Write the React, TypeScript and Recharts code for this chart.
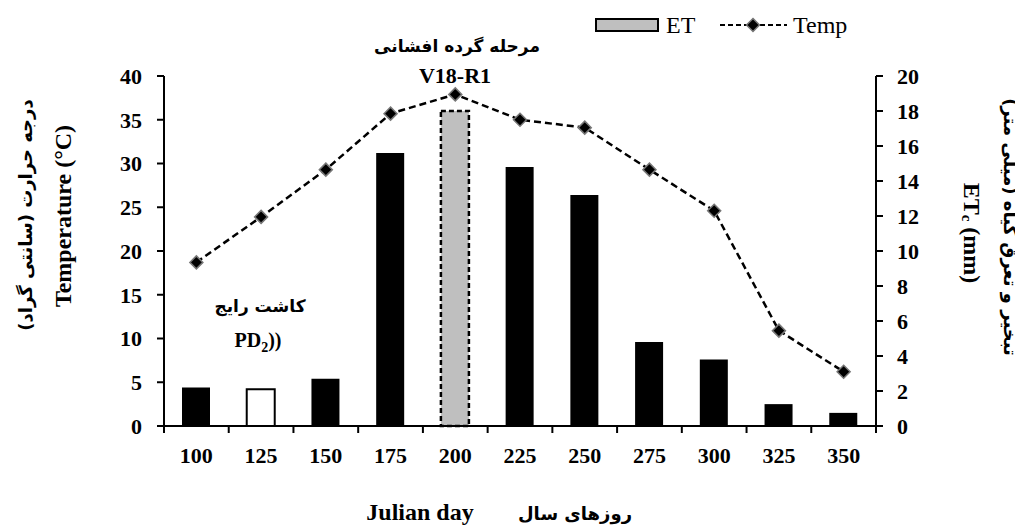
import { Bar, Cell, ComposedChart, Line, XAxis, YAxis } from "recharts"

// julian day categories
const days = [100, 125, 150, 175, 200, 225, 250, 275, 300, 325, 350]
// temperature (°C), left axis
const temp = [18.7, 23.9, 29.3, 35.7, 37.9, 35.0, 34.1, 29.3, 24.6, 10.9, 6.2]
// ETc (mm), right axis
const et = [2.2, 2.1, 2.7, 15.6, 18.0, 14.8, 13.2, 4.8, 3.8, 1.25, 0.75]

const tempTicks = [0, 5, 10, 15, 20, 25, 30, 35, 40]
const etTicks = [0, 2, 4, 6, 8, 10, 12, 14, 16, 18, 20]

const data = days.map((d, i) => ({ day: d, temp: temp[i], et: et[i] }))

const W = 1015
const H = 521
const serif = "'Liberation Serif', 'Times New Roman', 'DejaVu Serif', serif"
const persian = "'DejaVu Sans', sans-serif"

// 125 = planting date (white), 200 = pollination stage (grey dashed)
const barLook = (day: number) => {
  if (day === 125) return { fill: "#fff", stroke: "#000", strokeWidth: 2 }
  if (day === 200) return { fill: "#bfbfbf", stroke: "#000", strokeWidth: 2.5, strokeDasharray: "5 3" }
  return { fill: "#000", stroke: "none", strokeWidth: 0 }
}

const Diamond = (props: any) => {
  const { cx, cy } = props
  if (cx == null || cy == null) return null
  const r = 6.5
  return (
    <polygon
      points={`${cx},${cy - r} ${cx + r},${cy} ${cx},${cy + r} ${cx - r},${cy}`}
      fill="#000"
      stroke="#777"
      strokeWidth={1.5}
    />
  )
}

const XTick = (props: any) => {
  const { x, y, payload, index } = props
  const half = payload?.offset || 32.35
  return (
    <g>
      <line x1={x - half} x2={x - half} y1={y - 7} y2={y} stroke="#000" strokeWidth={2} />
      {index === days.length - 1 && (
        <line x1={x + half} x2={x + half} y1={y - 7} y2={y} stroke="#000" strokeWidth={2} />
      )}
      <text x={x} y={y + 30} textAnchor="middle" fontFamily={serif} fontWeight="bold" fontSize={22} fill="#000">
        {payload.value}
      </text>
    </g>
  )
}

const tickStyle = { fill: "#000", fontSize: 22, fontWeight: "bold", fontFamily: serif }

export default function App() {
  return (
    <div style={{ position: "relative", width: W, height: H, background: "#fff" }}>
      <ComposedChart width={W} height={H} data={data} margin={{ top: 68, right: 47, left: 56, bottom: 63 }}>
        <XAxis
          dataKey="day"
          xAxisId="x"
          tick={<XTick />}
          tickLine={false}
          tickSize={7}
          tickMargin={0}
          axisLine={{ stroke: "#000", strokeWidth: 2 }}
          height={40}
          interval={0}
        />
        <YAxis
          yAxisId="temp"
          orientation="left"
          domain={[0, 40]}
          ticks={tempTicks}
          width={100}
          tick={tickStyle}
          tickSize={7}
          tickMargin={15}
          tickLine={{ stroke: "#000", strokeWidth: 2 }}
          axisLine={{ stroke: "#000", strokeWidth: 2 }}
          interval={0}
        />
        <YAxis
          yAxisId="et"
          orientation="right"
          domain={[0, 20]}
          ticks={etTicks}
          width={100}
          tick={tickStyle}
          tickSize={7}
          tickMargin={14}
          tickLine={{ stroke: "#000", strokeWidth: 2 }}
          axisLine={{ stroke: "#000", strokeWidth: 2 }}
          interval={0}
        />
        <Bar dataKey="et" xAxisId="x" yAxisId="et" barSize={28} isAnimationActive={false}>
          {data.map((d) => (
            <Cell key={d.day} {...barLook(d.day)} />
          ))}
        </Bar>
        <Line
          dataKey="temp"
          xAxisId="x"
          yAxisId="temp"
          type="linear"
          stroke="#000"
          strokeWidth={2.5}
          strokeDasharray="7 4"
          dot={<Diamond />}
          activeDot={false}
          isAnimationActive={false}
        />
      </ComposedChart>

      <svg width={W} height={H} style={{ position: "absolute", left: 0, top: 0, pointerEvents: "none" }}>
        {/* legend */}
        <rect x={588} y={11} width={62} height={12} fill="#bfbfbf" stroke="#000" strokeWidth={2} />
        <text x={658} y={25} fontFamily={serif} fontSize={24} fill="#000">ET</text>
        <line x1={712} x2={779} y1={17} y2={17} stroke="#000" strokeWidth={2} strokeDasharray="5 3" />
        <Diamond cx={745} cy={17} />
        <text x={785} y={25} fontFamily={serif} fontSize={24} fill="#000">Temp</text>

        {/* annotations */}
        <text x={449} y={44} textAnchor="middle" direction="rtl" fontFamily={persian} fontWeight="bold" fontSize={17} fill="#000">
          مرحله گرده افشانی
        </text>
        <text x={447} y={75} textAnchor="middle" fontFamily={serif} fontWeight="bold" fontSize={22} fill="#000">
          V18-R1
        </text>
        <text x={252} y={304} textAnchor="middle" direction="rtl" fontFamily={persian} fontWeight="bold" fontSize={17} fill="#000">
          کاشت رایج
        </text>
        <text x={250} y={339} textAnchor="middle" fontFamily={serif} fontWeight="bold" fontSize={20} fill="#000">
          PD<tspan dy={5} fontSize={14}>2</tspan><tspan dy={-5}>))</tspan>
        </text>

        {/* left axis titles */}
        <text transform="translate(17,207) rotate(-90)" textAnchor="middle" dominantBaseline="central" direction="rtl" fontFamily={persian} fontWeight="bold" fontSize={18} fill="#000">
          درجه حرارت (سانتی گراد)
        </text>
        <text transform="translate(55,208) rotate(-90)" textAnchor="middle" dominantBaseline="central" fontFamily={serif} fontWeight="bold" fontSize={24} fill="#000">
          Temperature (°C)
        </text>

        {/* right axis titles */}
        <text transform="translate(964,225) rotate(90)" textAnchor="middle" dominantBaseline="central" fontFamily={serif} fontWeight="bold" fontSize={24} fill="#000">
          ET<tspan dy={5} fontSize={15}>c</tspan><tspan dy={-5}> (mm)</tspan>
        </text>
        <text transform="translate(1002,219) rotate(90)" textAnchor="middle" dominantBaseline="central" direction="rtl" fontFamily={persian} fontWeight="bold" fontSize={18} fill="#000">
          تبخیر و تعرق گیاه (میلی متر)
        </text>

        {/* x axis titles */}
        <text x={412} y={512} textAnchor="middle" fontFamily={serif} fontWeight="bold" fontSize={24} fill="#000">
          Julian day
        </text>
        <text x={567} y={512} textAnchor="middle" direction="rtl" fontFamily={persian} fontWeight="bold" fontSize={18} fill="#000">
          روزهای سال
        </text>
      </svg>
    </div>
  )
}
